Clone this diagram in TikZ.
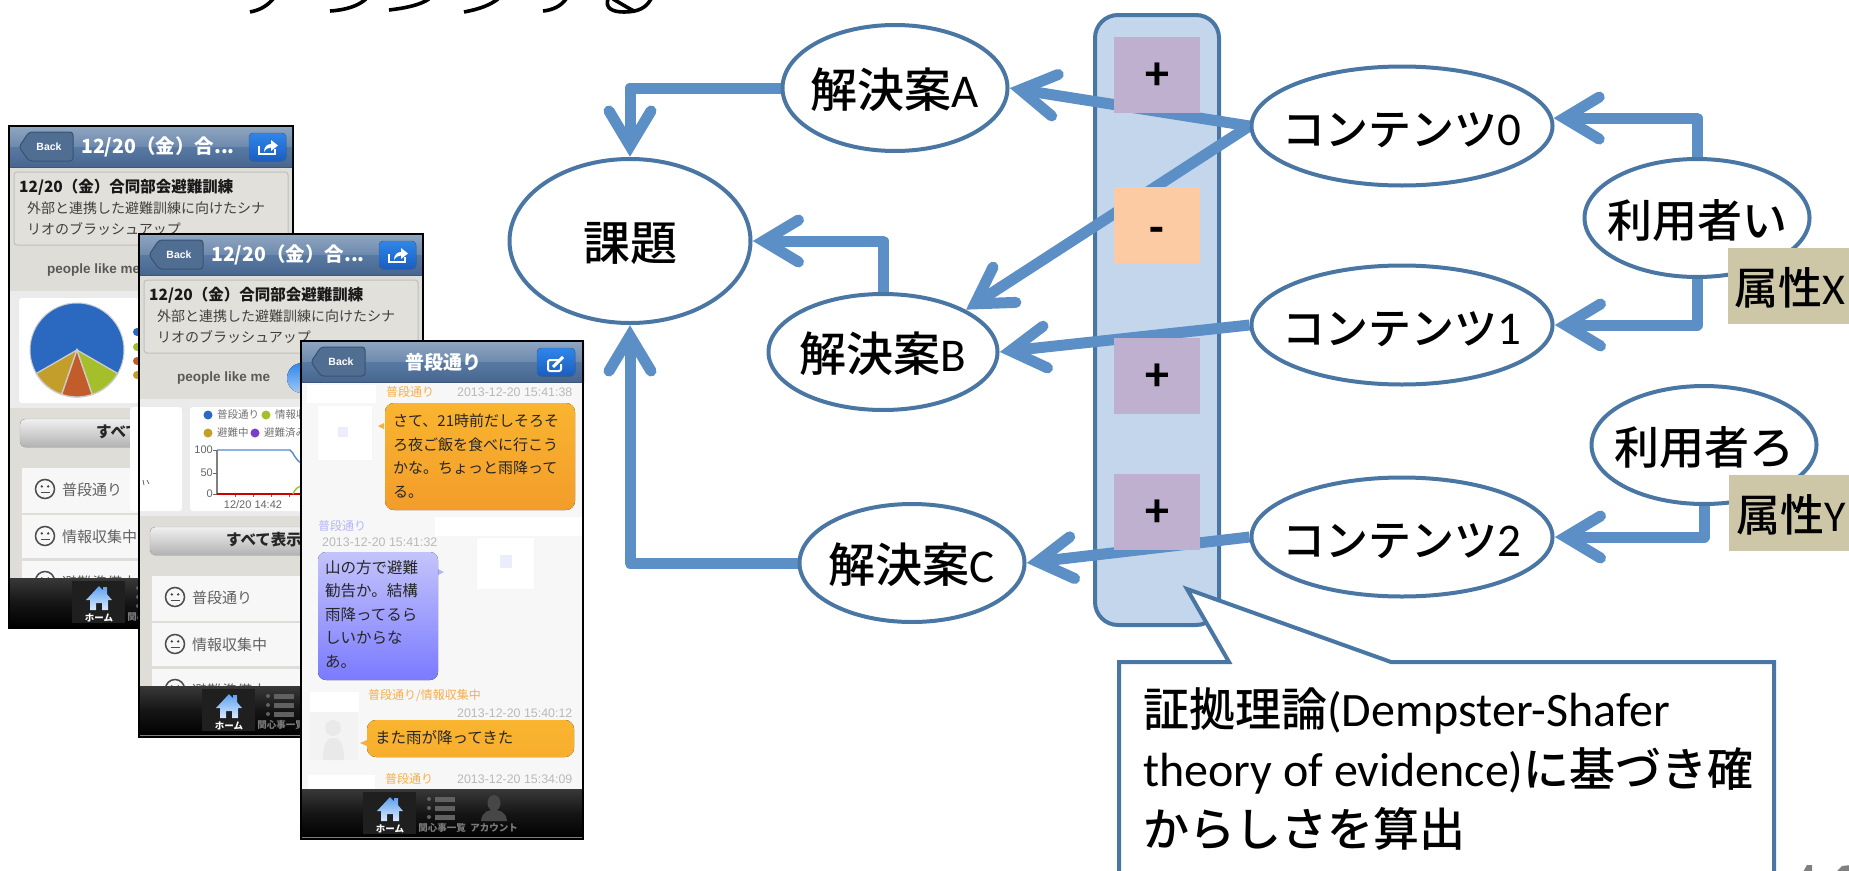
\documentclass[tikz,border=0pt]{standalone}
\usepackage{fontspec}
\setmainfont{Carlito}
\newfontfamily\cjk{Noto Sans CJK JP}
\newfontfamily\cjkm{Noto Sans CJK JP Medium}
\newfontfamily\hel{Liberation Sans}
\usetikzlibrary{shapes.geometric,arrows.meta,calc}
\newcommand{\pxs}[1]{\fontsize{#1}{#1}\selectfont}
\newcommand{\ovl}[1]{\raisebox{-.42em}[0pt][0pt]{\makebox[0pt]{#1}}}
\newcommand{\lowered}[2]{\raisebox{-#1pt}[0pt][0pt]{\makebox[0pt]{#2}}}
\pgfdeclarelayer{bgl}\pgfdeclarelayer{linel}\pgfsetlayers{bgl,linel,main}
\pgfdeclarearrow{
  name=PB,
  setup code={
    \pgfarrowssettipend{0pt}
    \pgfarrowssetlineend{-14pt}
    \pgfarrowssetvisualbackend{-52pt}
    \pgfarrowssetbackend{-14pt}
    \pgfarrowsupperhullpoint{-52pt}{27pt}
    \pgfarrowsupperhullpoint{0pt}{0pt}
  },
  drawing code={
    \pgfsetlinewidth{11pt}\pgfsetroundcap\pgfsetmiterjoin
    \pgfpathmoveto{\pgfqpoint{-46pt}{21pt}}
    \pgfpathlineto{\pgfqpoint{-11pt}{0pt}}
    \pgfpathlineto{\pgfqpoint{-46pt}{-21pt}}
    \pgfusepathqstroke
  }
}
\definecolor{linkc}{HTML}{5B8FC6}
\definecolor{edgec}{HTML}{4A76A4}
\definecolor{barc}{HTML}{C3D6EC}
\definecolor{plusc}{HTML}{BFB0D0}
\definecolor{minusc}{HTML}{FCCBA3}
\definecolor{attrc}{HTML}{CEC7A7}
\definecolor{paper}{HTML}{DFDDD7}
\definecolor{cardc}{HTML}{E2E0DA}
\definecolor{hA}{HTML}{8FA5C0}
\definecolor{hB}{HTML}{6C89AD}
\definecolor{hC}{HTML}{587AA2}
\definecolor{hD}{HTML}{47668F}
\definecolor{tsg}{HTML}{B9B9B9}
\definecolor{orlab}{HTML}{F6AE4A}
\definecolor{pulab}{HTML}{B5B5FA}
\definecolor{chatbg}{HTML}{F7F7F7}
\definecolor{btnT}{HTML}{2F86E8}
\definecolor{btnB}{HTML}{1A5DC2}
\definecolor{orT}{HTML}{F9B52F}
\definecolor{orB}{HTML}{F39C2B}
\definecolor{houseT}{HTML}{5F9FEF}
\definecolor{houseB}{HTML}{D8EAFF}
\tikzset{
  oval/.style={ellipse,draw=edgec,line width=4pt,fill=white,inner sep=0pt,font=\cjkm\pxs{47}},
  conn/.style={draw=linkc,line width=11pt,line join=round,-PB},
  markbox/.style={rectangle,inner sep=0pt,minimum width=86pt,minimum height=76pt,font=\bfseries\pxs{48}},
  attrbox/.style={rectangle,fill=attrc,inner sep=0pt,minimum height=76pt,font=\cjkm\pxs{44}},
  frameb/.style={draw=black,line width=2pt},
  tl/.style={anchor=west,inner sep=0pt},
  ct/.style={anchor=center,inner sep=0pt},
  jp/.style={font=\cjk\pxs{#1}},
  jpb/.style={font=\cjk\bfseries\pxs{#1}},
  tabtext/.style={ct,font=\cjk\bfseries\pxs{9.5},text=#1},
  ts/.style={tl,font=\hel\pxs{12.4},text=tsg},
}
% header bar, local coords 0..282 x 0..40
\newcommand{\Hdr}[1]{%
  \fill[top color=hA,bottom color=hB] (0,0) rectangle (282,20);
  \fill[top color=hC,bottom color=hD] (0,20) rectangle (282,40);
  \draw[hD!85!black,line width=.7pt] (0,40) -- (282,40);
  \draw[fill=hC!90!black,draw=hD!80!black,line width=1pt,rounded corners=3pt]
     (9,20) -- (19,5) -- (63,5) -- (63,34) -- (19,34) -- cycle;
  \node[ct,font=\hel\bfseries\pxs{10.5},text=white] (#1back) at (39,20) {Back};
}
\newcommand{\BlueBtn}[2]{%
  \fill[top color=btnT,bottom color=btnB,rounded corners=4pt,draw=hD] (#1,6) rectangle (#2,34);
}
\newcommand{\Smile}[2]{%
  \draw[draw=black!70,line width=1.5pt] (#1,#2) circle[radius=9.5pt];
  \fill[black!75] ($(#1,#2)+(-3.2,-2.6)$) circle[radius=1.3pt] ($(#1,#2)+(3.2,-2.6)$) circle[radius=1.3pt];
  \draw[black!70,line width=1.2pt] ($(#1,#2)+(-4.5,3.5)$) -- ($(#1,#2)+(4.5,3.5)$);
}
% tab bar; local coords 0..282 x 0..50
\newcommand{\TabBar}[1]{%
  \fill[top color=black!78,bottom color=black,middle color=black!92] (0,0) rectangle (282,50);
  \fill[black!88] (62,3) rectangle (115,45);
  \fill[top color=houseT,bottom color=houseB]
     (76,22) -- (89,8) -- (93,12) -- (93,9) -- (97,9) -- (97,16) -- (102,22) -- (98,22) -- (98,32) -- (92,32) -- (92,25) -- (86,25) -- (86,32) -- (80,32) -- (80,22) -- cycle;
  \node[tabtext=white] (#1home) at (89,40) {ホーム};
  \foreach \yy in {10,19,28}{
    \fill[black!62] (128,\yy) circle[radius=2pt];
    \fill[black!62] (134,{\yy-2.5}) rectangle (154,{\yy+2.5});
  }
  \node[tabtext=black!52] (#1list) at (141,39) {関心事一覧};
  \fill[black!72] (193,14) ellipse[x radius=6.5pt,y radius=8pt];
  \fill[black!72] (180,32) .. controls (181,22) and (188,21) .. (193,21) .. controls (198,21) and (205,22) .. (206,32) -- cycle;
  \node[tabtext=black!52] (#1acc) at (193,39) {アカウント};
}
\newcommand{\PhoneAB}[1]{%
  \draw[frameb,fill=paper] (9,126) rectangle (293,628);
  \begin{scope}[shift={(10,127)}]
    \Hdr{#1}
    \node[tl,jpb=19.5,text=white] (#1ttl) at (71,20) {12/20（金）合...};
    \BlueBtn{239}{276}
    \draw[white,line width=2pt] (249,19) -- (249,27) -- (265,27) -- (265,22);
    \fill[white] (254,25) .. controls (254,19) and (258,17) .. (261,17) -- (261,13) -- (268,18.5) -- (261,24) -- (261,20.5) .. controls (258,20.5) and (256,22) .. (254,25) -- cycle;
  \end{scope}
  \draw[fill=cardc,draw=black!25,line width=1pt,rounded corners=3pt] (14,172) rectangle (288,245);
  \node[tl,jpb=15.5,text=black!90] (#1c1) at (19,187) {12/20（金）合同部会避難訓練};
  \node[tl,jp=14,text=black!75] (#1c2) at (27,208) {外部と連携した避難訓練に向けたシナ};
  \node[tl,jp=14,text=black!75] (#1c3) at (27,229) {リオのブラッシュアップ};
  \node[tl,font=\hel\bfseries\pxs{13.5},text=black!65] (#1pl) at (47,270) {people like me};
  \fill[top color=btnT,bottom color=btnT!45!white] (172,270) circle[radius=15pt];
  \fill[black!8] (10,291) rectangle (292,408);
  \fill[top color=black!6,bottom color=black!30,rounded corners=5pt,draw=black!30] (20,419) rectangle (282,447);
  \node[tl,jpb=15.5,text=black!85] (#1all) at (96,432) {すべて表示};
  \foreach \ya/\yb in {468/513,515/558,561/590}{\fill[chatbg] (22,\ya) rectangle (290,\yb);}
  \Smile{45}{489}\node[tl,jp=15,text=black!62] (#1r1) at (62,490) {普段通り};
  \Smile{45}{536}\node[tl,jp=15,text=black!62] (#1r2) at (62,537) {情報収集中};
  \Smile{45}{581}\node[tl,jp=15,text=black!62] (#1r3) at (62,583) {避難準備中};
  \begin{scope}[shift={(10,578)}]\TabBar{#1}\end{scope}
}
\begin{document}
\begin{tikzpicture}[x=1pt,y=-1pt]
\useasboundingbox (0,0) rectangle (1849,870);
\clip (0,0) rectangle (1849,870);
% remnants of a cut-off heading and page number
\begin{scope}[black,line width=3.6pt]
  \draw (273,-1) .. controls (267,6) and (260,10) .. (250,12);
  \draw (366,-1) .. controls (358,6) and (346,10) .. (330,11);
  \draw (429,-1) .. controls (420,5) and (406,8) .. (389,10);
  \draw (498,-1) .. controls (490,5) and (480,9) .. (464,12);
  \draw (566,-1) .. controls (561,6) and (553,10) .. (543,11);
  \draw (608,-1) .. controls (605,8) and (612,12) .. (624,12) .. controls (638,12) and (646,8) .. (651,-1);
  \draw (613,-1) .. controls (620,3) and (628,8) .. (634,11);
\end{scope}
\fill[black!50] (1803,872) -- (1807,865) -- (1812,865) -- (1812,872) -- cycle;
\fill[black!50] (1836,872) -- (1842,866) -- (1851,865) -- (1851,872) -- cycle;
% ---------- phones
\PhoneAB{pa}
\fill[white,rounded corners=3pt] (19,298) rectangle (139,403);
\definecolor{pb}{HTML}{2B69C0}\definecolor{py}{HTML}{C49E2A}\definecolor{po}{HTML}{C25D2B}\definecolor{pg}{HTML}{A5BF2B}\definecolor{pp}{HTML}{7B3FC4}
\fill[pb,draw=black!20,line width=1pt] (77,350) circle[radius=47pt];
\draw[fill=py,draw=black!20,line width=1.3pt] (77,350) -- plot[domain=210:251,samples=10] ({77+47*cos(\x)},{350-47*sin(\x)}) -- cycle;
\draw[fill=po,draw=black!20,line width=1.3pt] (77,350) -- plot[domain=251:289,samples=10] ({77+47*cos(\x)},{350-47*sin(\x)}) -- cycle;
\draw[fill=pg,draw=black!20,line width=1.3pt] (77,350) -- plot[domain=289:330,samples=10] ({77+47*cos(\x)},{350-47*sin(\x)}) -- cycle;
\fill[pb] (137,332) circle[radius=4pt];
\fill[pg] (137,347) circle[radius=4pt];
\fill[po] (137,361) circle[radius=4pt];
\fill[py] (137,375) circle[radius=4pt];
\begin{scope}[shift={(130,108)}]
  \PhoneAB{pc}
\end{scope}
\fill[white,rounded corners=3pt] (130,407) rectangle (182,511);
\draw[black!60,line width=.8pt] (143,480) -- (144,485) (147,480) -- (149,484);
\fill[white,rounded corners=3pt] (190,407) rectangle (421,511);
\fill[pb] (208,415) circle[radius=4.5pt];
\node[tl,jp=10.5,text=black!55] (l1) at (217,415) {普段通り};
\fill[pg] (266,415) circle[radius=4.5pt];
\node[tl,jp=10.5,text=black!55] (l2) at (275,415) {情報収};
\fill[py] (208,433) circle[radius=4.5pt];
\node[tl,jp=10.5,text=black!55] (l3) at (217,433) {避難中};
\fill[pp] (255,433) circle[radius=4.5pt];
\node[tl,jp=10.5,text=black!55] (l4) at (264,433) {避難済み};
\draw[black!50,line width=1.3pt] (217,450) -- (217,494);
\foreach \tx in {235,253,271,289}{\draw[black!60,line width=1pt] (\tx,494) -- (\tx,497);}
\foreach \ty in {450,473,494}{\draw[black!60,line width=1pt] (213,\ty) -- (217,\ty);}
\node[anchor=east,inner sep=0pt,font=\hel\pxs{11},text=black!60] (y1) at (213,450) {100};
\node[anchor=east,inner sep=0pt,font=\hel\pxs{11},text=black!60] (y2) at (213,473) {50};
\node[anchor=east,inner sep=0pt,font=\hel\pxs{11},text=black!60] (y3) at (213,494) {0};
\node[ct,font=\hel\pxs{11},text=black!60] (xl) at (253,505) {12/20 14:42};
\draw[pb!80!white,line width=1.4pt] (217,450) -- (290,450) .. controls (294,452) and (295,462) .. (303,463);
\draw[red!80!black,line width=1.4pt] (217,494) -- (303,494);
\draw[pg,line width=1.4pt] (293,494) .. controls (295,489) and (298,486) .. (303,486);
\draw[black!50,line width=1pt] (139,735) -- (423,735);
\draw[frameb] (139,234) rectangle (423,737);
% phone 3
\draw[frameb,fill=chatbg] (301,341) rectangle (583,839);
\begin{scope}[shift={(302,342)}]
  \Hdr{pe}
  \BlueBtn{235}{273}
\end{scope}
\draw[white,line width=2pt,rounded corners=2pt] (559,360) -- (548,360) -- (548,371) -- (561,371) -- (561,364);
\draw[white,line width=3pt] (553,367) -- (563,357);
\node[ct,jpb=19,text=white] (ettl) at (443,362) {普段通り};
\fill[white] (307,385) rectangle (376,403);
\draw[fill=white,draw=black!4,line width=1pt] (317,405) rectangle (372,460);
\fill[green!12!blue!8!white] (338,427) rectangle (348,437);
\node[tl,jp=12,text=orlab] (m1) at (386,392) {普段通り};
\node[ts] (t1) at (457,392) {2013-12-20 15:41:38};
\fill[orlab] (384,423) -- (378,426) -- (384,429) -- cycle;
\fill[top color=orT,bottom color=orB,rounded corners=9pt] (385,403) rectangle (575,510);
\node[tl,jp=15,text=black!85] (o1) at (393,421) {さて、21時前だしそろそ};
\node[tl,jp=15,text=black!85] (o2) at (393,445) {ろ夜ご飯を食べに行こう};
\node[tl,jp=15,text=black!85] (o3) at (393,468) {かな。ちょっと雨降って};
\node[tl,jp=15,text=black!85] (o4) at (393,492) {る。};
\fill[white] (435,517) rectangle (582,536);
\draw[fill=white,draw=black!4,line width=1pt] (476,537) rectangle (534,589);
\fill[green!12!blue!8!white] (500,555) rectangle (512,568);
\node[tl,jp=12,text=pulab] (m2) at (318,526) {普段通り};
\node[ts] (t2) at (322,542) {2013-12-20 15:41:32};
\fill[pulab] (438,569) -- (444,572) -- (438,575) -- cycle;
\fill[top color=pulab!80!white,bottom color=blue!52!white,rounded corners=8pt] (318,552) rectangle (438,680);
\node[tl,jp=15.5,text=black!85] (p1) at (325,568) {山の方で避難};
\node[tl,jp=15.5,text=black!85] (p2) at (325,591) {勧告か。結構};
\node[tl,jp=15.5,text=black!85] (p3) at (325,615) {雨降ってるら};
\node[tl,jp=15.5,text=black!85] (p4) at (325,638) {しいからな};
\node[tl,jp=15.5,text=black!85] (p5) at (325,662) {あ。};
\fill[white] (310,692) rectangle (359,712);
\fill[green!4!black!5] (309,712) rectangle (358,760);
\fill[green!5!black!9] (323,760) .. controls (323,745) and (326,738) .. (333,738) .. controls (341,738) and (344,745) .. (344,760) -- cycle;
\fill[green!5!black!9] (333,728) circle[radius=8pt];
\node[tl,jp=12,text=orlab] (m3) at (368,696) {普段通り/情報収集中};
\node[ts] (t3) at (457,713) {2013-12-20 15:40:12};
\fill[orlab] (367,740) -- (360,743) -- (367,746) -- cycle;
\fill[top color=orT,bottom color=orT!70!orB,rounded corners=9pt] (367,720) rectangle (574,757);
\node[tl,jp=15.5,text=black!85] (o5) at (375,738) {また雨が降ってきた};
\fill[white] (308,775) rectangle (375,789);
\node[tl,jp=12,text=orlab] (m4) at (385,779) {普段通り};
\node[ts] (t4) at (457,779) {2013-12-20 15:34:09};
\begin{scope}[shift={(301,789)}]\TabBar{pe}\end{scope}
\draw[black!50,line width=1pt] (301,837) -- (583,837);
\draw[frameb] (301,341) rectangle (583,839);
% ---------- bar
\begin{pgfonlayer}{bgl}
\draw[draw=edgec,fill=barc,line width=4pt,rounded corners=23pt] (1095,15) rectangle (1219,625);
\end{pgfonlayer}
\node[markbox,fill=plusc] (m0) at (1157,75) {\lowered{14}{+}};
\node[markbox,fill=minusc] (m1b) at (1157,225) {\lowered{18}{-}};
\node[markbox,fill=plusc] (m2b) at (1157,376) {\lowered{14}{+}};
\node[markbox,fill=plusc] (m3b) at (1157,512) {\lowered{14}{+}};
% ---------- ovals
\node[oval,minimum width=241pt,minimum height=164pt] (k) at (630,241) {\ovl{課題}};
\node[oval,minimum width=225pt,minimum height=126pt] (a) at (895,88) {\ovl{解決案{\rmfamily A}}};
\node[oval,minimum width=229pt,minimum height=116pt] (b) at (883,352) {\ovl{解決案{\rmfamily B}}};
\node[oval,minimum width=225pt,minimum height=118pt] (c) at (912,563) {\ovl{解決案{\rmfamily C}}};
\node[oval,minimum width=301pt,minimum height=119pt] (c0) at (1402,126) {\ovl{\pxs{43}コンテンツ{\rmfamily\pxs{47}0}}};
\node[oval,minimum width=301pt,minimum height=119pt] (c1) at (1402,325) {\ovl{\pxs{43}コンテンツ{\rmfamily\pxs{47}1}}};
\node[oval,minimum width=301pt,minimum height=119pt] (c2) at (1402,537) {\ovl{\pxs{43}コンテンツ{\rmfamily\pxs{47}2}}};
\node[oval,minimum width=225pt,minimum height=118pt] (i) at (1697,218) {\ovl{\pxs{45}利用者い}};
\node[oval,minimum width=225pt,minimum height=118pt] (r) at (1704,445) {\ovl{\pxs{45}利用者ろ}};
\node[attrbox,minimum width=124pt] (ax) at (1790,286) {\lowered{18}{属性{\rmfamily X}}};
\node[attrbox,minimum width=124pt] (ay) at (1791,513) {\lowered{18}{属性{\rmfamily Y}}};
% ---------- connectors
\begin{pgfonlayer}{linel}
\draw[conn] (a.west) -| (k.north);
\draw[conn] (c0.west) -- (a.east);
\draw[conn] (c0.west) -- (b.27);
\draw[conn] (c1.west) -- (b.east);
\draw[conn] (c2.west) -- (c.east);
\draw[conn] (b.north) |- (k.east);
\draw[conn] (c.west) -| (k.south);
\draw[conn] (i.north) |- (c0.3);
\draw[conn] (i.south) |- (c1.east);
\draw[conn] (r.south) |- (c2.east);
\end{pgfonlayer}
% ---------- callout
\draw[draw=edgec,fill=white,line width=4pt,line join=miter] (1119,885) -- (1119,662) -- (1229,662) -- (1187,589) -- (1391,662) -- (1774,662) -- (1774,885) -- cycle;
\node[anchor=north west,inner sep=0pt,align=left,font=\fontsize{48}{60}\selectfont] (note) at (1143,687)
  {{\cjkm\pxs{46}証拠理論}(Dempster-Shafer\\theory of evidence){\cjkm\pxs{46}に基づき確}\\{\cjkm\pxs{46}からしさを算出}};
\end{tikzpicture}
\end{document}
